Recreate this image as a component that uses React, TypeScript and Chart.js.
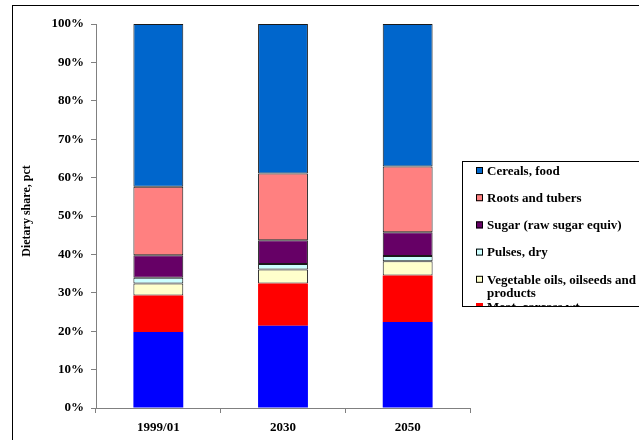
import React, { useEffect, useRef } from "react";
import { Chart, registerables } from "chart.js";

Chart.register(...registerables);

// Dietary energy share by commodity group, percent of total
const periods = ["1999/01", "2030", "2050"];
const otherFoods = [19.8, 21.4, 22.4];
const meat = [9.5, 11.0, 12.1];
const vegOils = [3.1, 3.7, 3.7];
const pulses = [1.5, 1.4, 1.4];
const sugar = [5.9, 6.2, 6.2];
const roots = [17.8, 17.4, 17.1];
const cereals = [42.4, 38.9, 37.1];

const yTicks = [0, 10, 20, 30, 40, 50, 60, 70, 80, 90, 100];

const SERIF = "'Liberation Serif', 'Times New Roman', serif";
const AXIS_GREY = "#808080";

// Legend entries listed top-down, matching the stack order reversed
const legendItems = [
  { label: "Cereals, food", color: "#0066CC", lines: 1 },
  { label: "Roots and tubers", color: "#FF8080", lines: 1 },
  { label: "Sugar (raw sugar equiv)", color: "#660066", lines: 1 },
  { label: "Pulses, dry", color: "#CCFFFF", lines: 1 },
  { label: "Vegetable oils, oilseeds and|products", color: "#FFFFCC", lines: 2 },
  { label: "Meat, carcass wt", color: "#FF0000", lines: 1 },
  { label: "Other foods", color: "#0000FF", lines: 1 },
];

const framePlugin = {
  id: "frameAndLegend",
  afterDraw(chart: any) {
    const ctx = chart.ctx as CanvasRenderingContext2D;
    ctx.save();
    // outer chart frame
    ctx.strokeStyle = "#000";
    ctx.lineWidth = 1;
    ctx.strokeRect(12.5, 5.5, 700, 500);

    // y axis title
    ctx.save();
    ctx.translate(27, 211);
    ctx.rotate(-Math.PI / 2);
    ctx.font = `bold 12px ${SERIF}`;
    ctx.fillStyle = "#000";
    ctx.textAlign = "center";
    ctx.textBaseline = "middle";
    ctx.fillText("Dietary share, pct", 0, 0);
    ctx.restore();

    // legend box
    const bx = 462.5;
    const by = 161.5;
    const bBottom = 306.5;
    ctx.fillStyle = "#fff";
    ctx.fillRect(bx, by, 300, bBottom - by);
    ctx.save();
    ctx.beginPath();
    ctx.rect(bx, by, 300, bBottom - by);
    ctx.clip();
    ctx.font = `bold 13px ${SERIF}`;
    ctx.textBaseline = "middle";
    ctx.textAlign = "left";
    legendItems.forEach((item, i) => {
      const cy = 170.5 + 27.2 * i;
      ctx.fillStyle = item.color;
      ctx.fillRect(476, cy - 3.5, 7, 7);
      if (item.color !== "#FF0000" && item.color !== "#0000FF") {
        ctx.strokeStyle = "#000";
        ctx.lineWidth = 1;
        ctx.strokeRect(476.5, cy - 3, 6, 6);
      }
      ctx.fillStyle = "#000";
      item.label.split("|").forEach((line, j) => {
        ctx.fillText(line, 487, cy + 1 + j * 13.5);
      });
    });
    ctx.restore();
    ctx.strokeStyle = "#000";
    ctx.lineWidth = 1;
    ctx.strokeRect(bx, by, 300, bBottom - by);
    ctx.restore();
  },
};

export default function App() {
  const canvasRef = useRef<HTMLCanvasElement | null>(null);

  useEffect(() => {
    if (!canvasRef.current) return;
    const outlined = { borderColor: "#1a1a1a", borderWidth: 1, borderSkipped: false };
    const chart = new Chart(canvasRef.current, {
      type: "bar",
      data: {
        labels: periods,
        datasets: [
          { label: "Other foods", data: otherFoods, backgroundColor: "#0000FF", borderWidth: 0 },
          { label: "Meat, carcass wt", data: meat, backgroundColor: "#FF0000", borderWidth: 0 },
          { label: "Vegetable oils, oilseeds and products", data: vegOils, backgroundColor: "#FFFFCC", ...outlined },
          { label: "Pulses, dry", data: pulses, backgroundColor: "#CCFFFF", ...outlined },
          { label: "Sugar (raw sugar equiv)", data: sugar, backgroundColor: "#660066", ...outlined },
          { label: "Roots and tubers", data: roots, backgroundColor: "#FF8080", ...outlined },
          { label: "Cereals, food", data: cereals, backgroundColor: "#0066CC", ...outlined },
        ],
      },
      options: {
        responsive: false,
        animation: false,
        devicePixelRatio: 1,
        layout: { padding: { left: 0, top: 24, right: 169, bottom: 0 } },
        datasets: { bar: { categoryPercentage: 0.8, barPercentage: 0.5 } },
        plugins: { legend: { display: false }, tooltip: { enabled: false } },
        scales: {
          x: {
            stacked: true,
            offset: true,
            grid: {
              offset: true,
              drawOnChartArea: false,
              drawTicks: true,
              tickLength: 5,
              color: AXIS_GREY,
            },
            border: { color: AXIS_GREY, width: 1 },
            ticks: {
              color: "#000",
              font: { family: SERIF, size: 13, weight: "bold" },
              padding: 7,
              maxRotation: 0,
            },
            afterFit: (scale: any) => {
              scale.height = 32;
            },
          },
          y: {
            stacked: true,
            min: 0,
            max: 100,
            afterBuildTicks: (scale: any) => {
              scale.ticks = yTicks.map((v) => ({ value: v }));
            },
            grid: {
              drawOnChartArea: false,
              drawTicks: true,
              tickLength: 5,
              color: AXIS_GREY,
            },
            border: { color: AXIS_GREY, width: 1 },
            ticks: {
              color: "#000",
              font: { family: SERIF, size: 13, weight: "bold" },
              padding: 7,
              callback: (v: any) => `${v}%`,
            },
            afterFit: (scale: any) => {
              scale.width = 96;
            },
          },
        },
      },
      plugins: [framePlugin],
    } as any);
    return () => chart.destroy();
  }, []);

  return (
    <div style={{ position: "fixed", left: 0, top: 0, width: 639, height: 440, background: "#fff" }}>
      <canvas ref={canvasRef} width={639} height={440} />
    </div>
  );
}
